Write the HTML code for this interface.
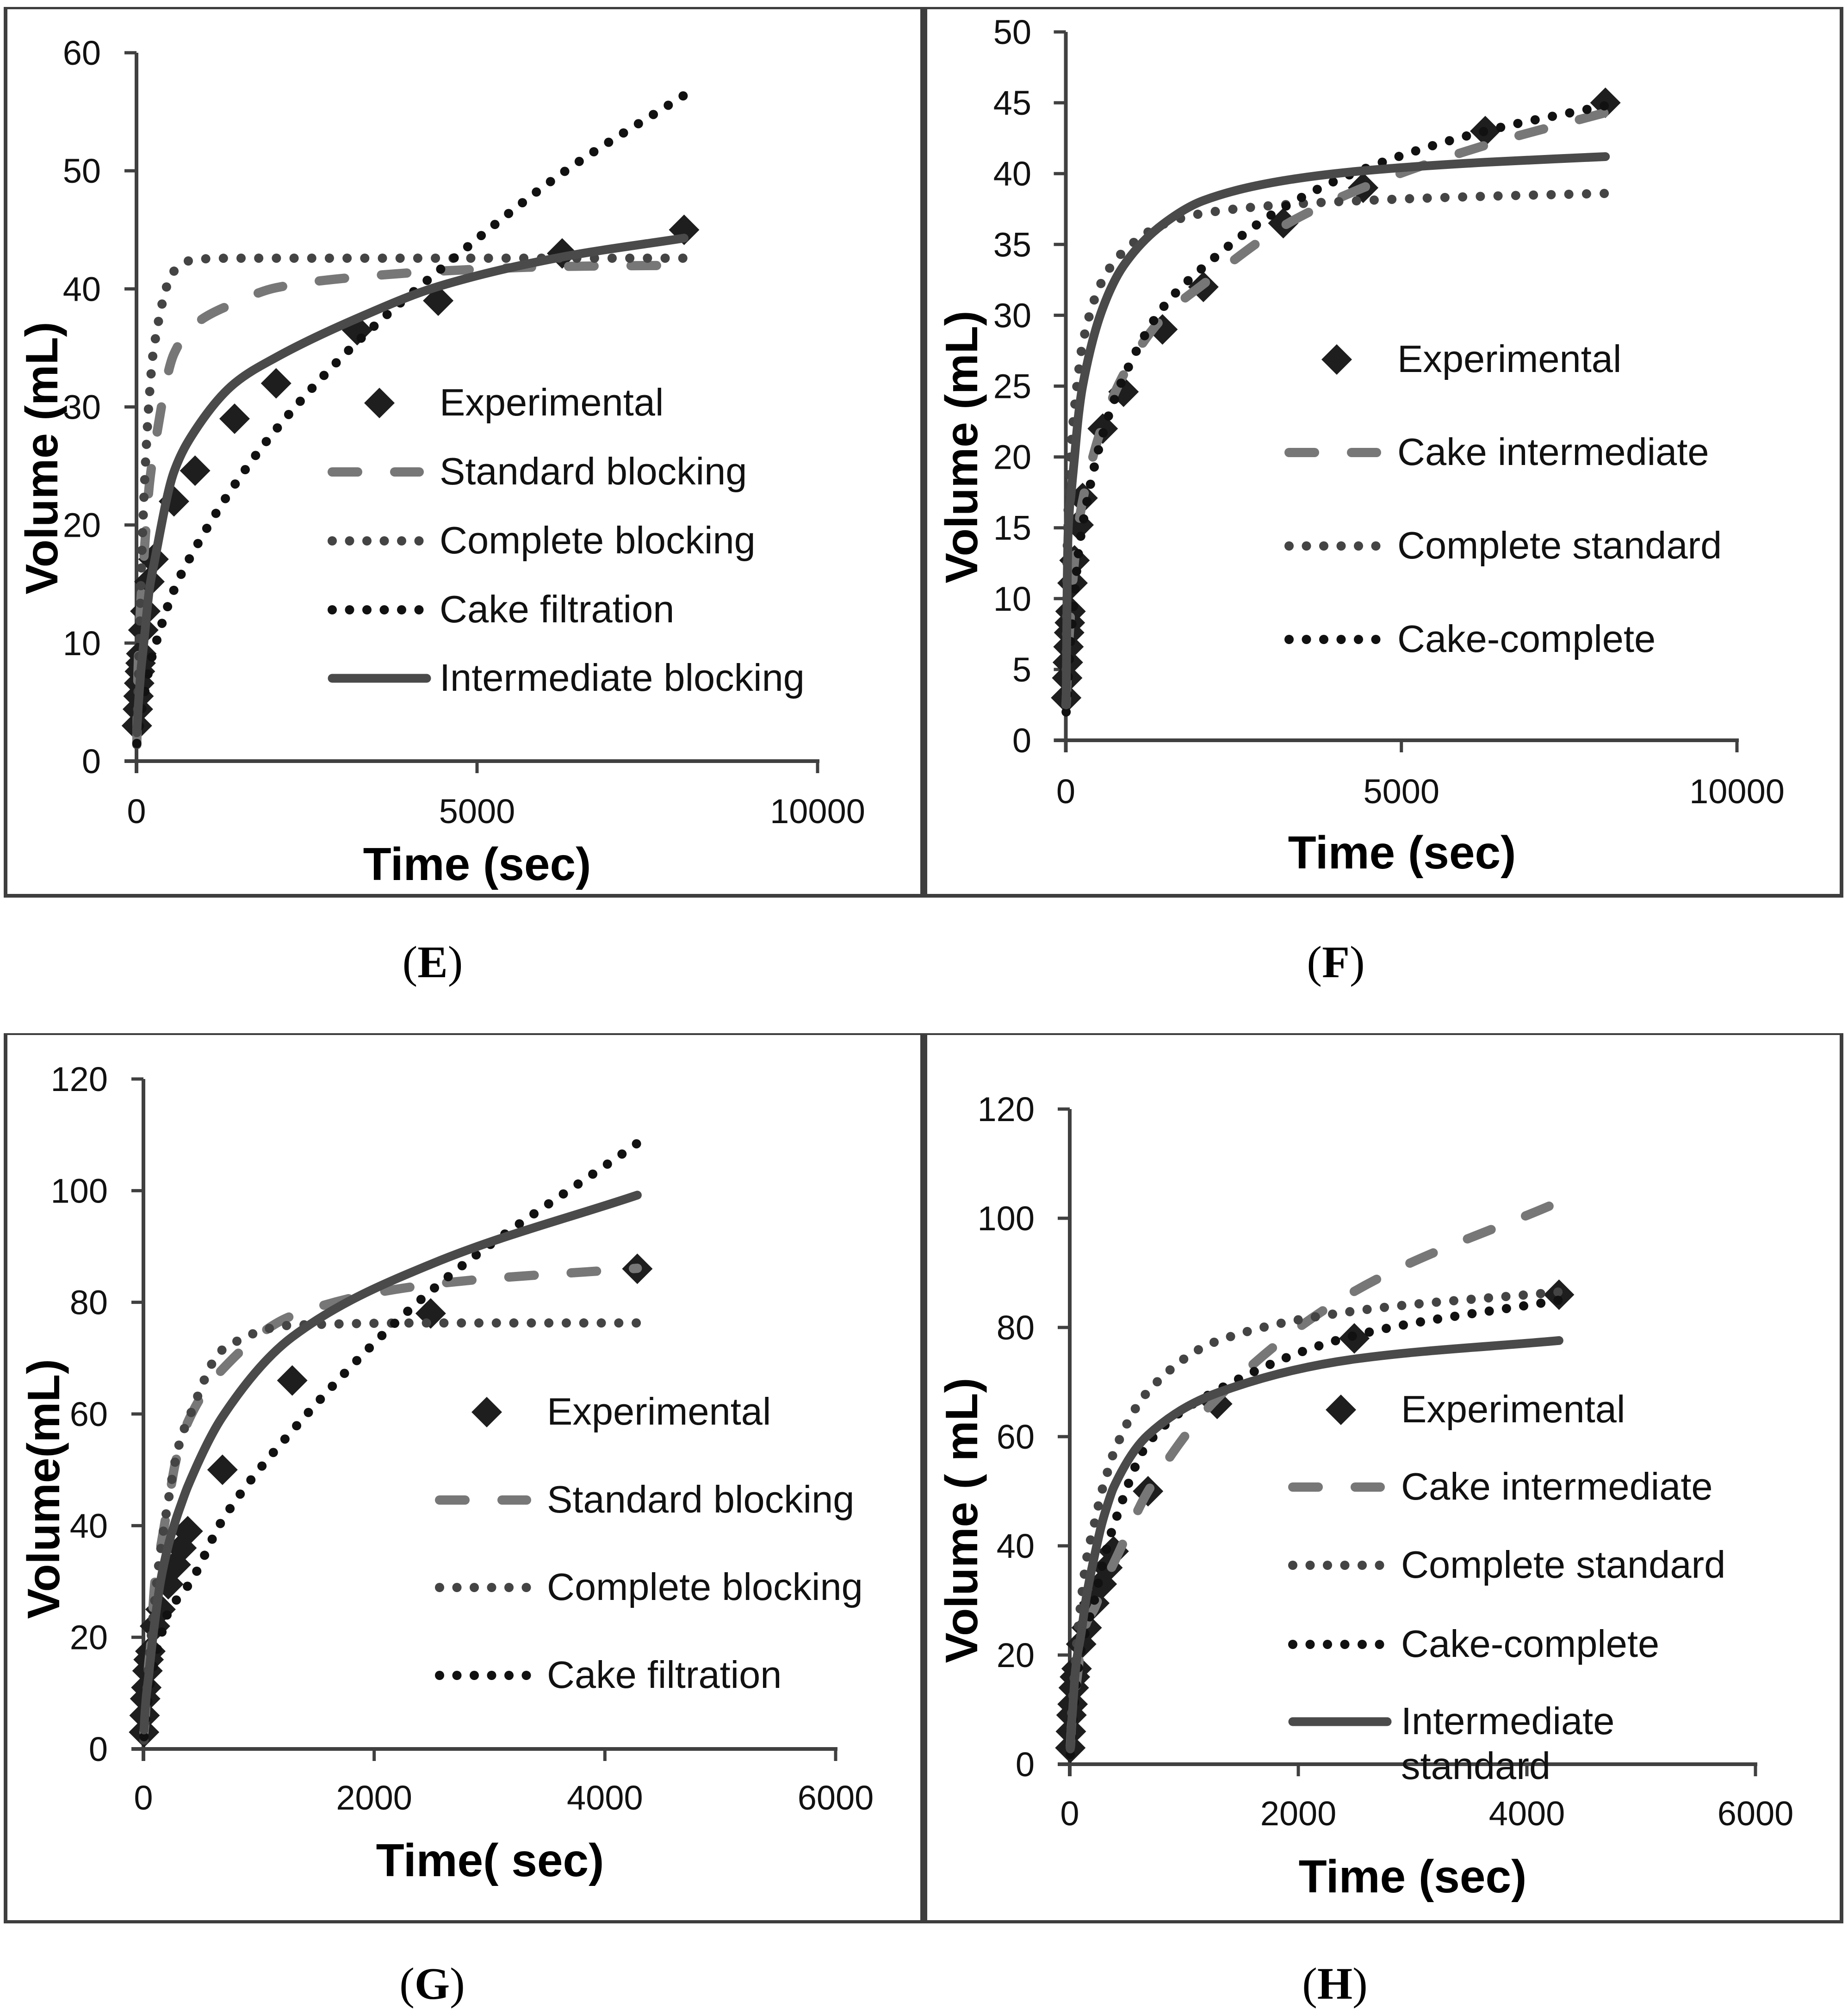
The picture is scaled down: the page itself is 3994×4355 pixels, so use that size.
<!DOCTYPE html>
<html lang="en">
<head>
<meta charset="utf-8">
<title>Filtration volume versus time, panels E to H</title>
<style>
html,body{margin:0;padding:0;background:#fff;}
svg{display:block;}
text{font-family:"Liberation Sans",sans-serif;fill:#111;}
.legend{font-size:83px;}
.title{font-size:100px;font-weight:bold;fill:#000;}
.ytitle{font-size:98.5px;font-weight:bold;fill:#000;}
.caption{font-family:"Liberation Serif",serif;font-size:98px;fill:#000;}
.caption tspan{font-family:"Liberation Serif",serif;font-weight:bold;}
.frame{fill:#3e3e3e;stroke:none;}
.std{fill:none;stroke:#777;stroke-width:20;stroke-linecap:round;stroke-linejoin:round;stroke-dasharray:55 80;}
.cmp{fill:none;stroke:#444;stroke-width:20;stroke-linecap:round;stroke-linejoin:round;stroke-dasharray:0 38;}
.cak{fill:none;stroke:#111;stroke-width:20;stroke-linecap:round;stroke-linejoin:round;stroke-dasharray:0 38;}
.int{fill:none;stroke:#4a4a4a;stroke-width:19;stroke-linecap:round;stroke-linejoin:round;}
line.cmp,line.cak{stroke-dasharray:0 37.5;}
</style>
</head>
<body>
<svg id="figure" xmlns="http://www.w3.org/2000/svg" width="3994" height="4355" viewBox="0 0 3994 4355">
  <rect x="0" y="0" width="3994" height="4355" fill="#fff"/>
  <g>
    <rect class="frame" x="8" y="15" width="3976" height="5"/>
    <rect class="frame" x="8" y="1932" width="3976" height="8"/>
    <rect class="frame" x="8" y="15" width="8" height="1925"/>
    <rect class="frame" x="1989" y="15" width="15" height="1925"/>
    <rect class="frame" x="3976" y="15" width="8" height="1925"/>
    <rect class="frame" x="8" y="2233" width="3976" height="4"/>
    <rect class="frame" x="8" y="4150" width="3976" height="7"/>
    <rect class="frame" x="8" y="2233" width="8" height="1924"/>
    <rect class="frame" x="1989" y="2233" width="15" height="1924"/>
    <rect class="frame" x="3976" y="2233" width="8" height="1924"/>
  </g>

  <g id="panel-e"></g>
  <g id="panel-f"></g>
  <g id="panel-g"></g>
  <g id="panel-h"></g>

  <!-- Panel E text -->
  <text class="title" x="1031" y="1902" text-anchor="middle">Time (sec)</text>
  <text class="ytitle" text-anchor="middle" transform="translate(124 990) rotate(-90)">Volume (mL)</text>
  <text class="caption" x="935" y="2112" text-anchor="middle">(<tspan>E</tspan>)</text>
  <g>
    <polygon points="820,838 853,871 820,904 787,871" fill="#1e1e1e"/>
    <text class="legend" x="950" y="898">Experimental</text>
    <line class="std" x1="718" y1="1020" x2="906" y2="1020"/>
    <text class="legend" x="950" y="1047">Standard blocking</text>
    <line class="cmp" x1="718" y1="1169" x2="907" y2="1169"/>
    <text class="legend" x="950" y="1196">Complete blocking</text>
    <line class="cak" x1="718" y1="1318" x2="907" y2="1318"/>
    <text class="legend" x="950" y="1345">Cake filtration</text>
    <line class="int" x1="718" y1="1466" x2="922" y2="1466"/>
    <text class="legend" x="950" y="1493">Intermediate blocking</text>
  </g>

  <!-- Panel F text -->
  <text class="title" x="3030" y="1877" text-anchor="middle">Time (sec)</text>
  <text class="ytitle" text-anchor="middle" transform="translate(2112 966) rotate(-90)">Volume (mL)</text>
  <text class="caption" x="2887" y="2112" text-anchor="middle">(<tspan>F</tspan>)</text>
  <g>
    <polygon points="2889,744 2922,777 2889,810 2856,777" fill="#1e1e1e"/>
    <text class="legend" x="3020" y="804">Experimental</text>
    <line class="std" x1="2786" y1="978" x2="2975" y2="978"/>
    <text class="legend" x="3020" y="1005">Cake intermediate</text>
    <line class="cmp" x1="2786" y1="1180" x2="2975" y2="1180"/>
    <text class="legend" x="3020" y="1207">Complete standard</text>
    <line class="cak" x1="2786" y1="1382" x2="2975" y2="1382"/>
    <text class="legend" x="3020" y="1409">Cake-complete</text>
  </g>

  <!-- Panel G text -->
  <text class="title" x="1059" y="4055" text-anchor="middle">Time( sec)</text>
  <text class="ytitle" text-anchor="middle" transform="translate(128 3218) rotate(-90)">Volume(mL)</text>
  <text class="caption" x="934" y="4320" text-anchor="middle">(<tspan>G</tspan>)</text>
  <g>
    <polygon points="1052,3019 1085,3052 1052,3085 1019,3052" fill="#1e1e1e"/>
    <text class="legend" x="1182" y="3079">Experimental</text>
    <line class="std" x1="950" y1="3242" x2="1138" y2="3242"/>
    <text class="legend" x="1182" y="3269">Standard blocking</text>
    <line class="cmp" x1="950" y1="3431" x2="1139" y2="3431"/>
    <text class="legend" x="1182" y="3458">Complete blocking</text>
    <line class="cak" x1="950" y1="3621" x2="1139" y2="3621"/>
    <text class="legend" x="1182" y="3648">Cake filtration</text>
  </g>

  <!-- Panel H text -->
  <text class="title" x="3053" y="4090" text-anchor="middle">Time (sec)</text>
  <text class="ytitle" text-anchor="middle" transform="translate(2112 3286) rotate(-90)">Volume ( mL)</text>
  <text class="caption" x="2885" y="4320" text-anchor="middle">(<tspan>H</tspan>)</text>
  <g>
    <polygon points="2898,3014 2931,3047 2898,3080 2865,3047" fill="#1e1e1e"/>
    <text class="legend" x="3028" y="3074">Experimental</text>
    <line class="std" x1="2794" y1="3214" x2="2983" y2="3214"/>
    <text class="legend" x="3028" y="3241">Cake intermediate</text>
    <line class="cmp" x1="2794" y1="3383" x2="2983" y2="3383"/>
    <text class="legend" x="3028" y="3410">Complete standard</text>
    <line class="cak" x1="2794" y1="3554" x2="2983" y2="3554"/>
    <text class="legend" x="3028" y="3581">Cake-complete</text>
    <line class="int" x1="2794" y1="3721" x2="2998" y2="3721"/>
    <text class="legend" x="3028" y="3748">Intermediate</text>
    <text class="legend" x="3028" y="3845">standard</text>
  </g>
</svg>

<script>
// Shared x values and experimental data: panels E and F
var timeEF = [5,20,30,40,50,60,70,100,130,190,250,550,860,1440,2050,3240,4430,6250,8040];
var experimentalEF = [3,4.4,5.5,6.6,7.6,8.3,9.1,11.1,12.7,15.2,17.1,22,24.6,29,32,36.5,39,43,45];

// Panel E models
var standardE = [1.5,7,9,10.5,12,13,14,16.5,19,23.5,26,34.5,37,38.8,40.1,41,41.5,41.9,42];
var completeE = [1.4,5.2,7.5,10,12,14,16,21,25,31,34.8,41.5,42.5,42.6,42.6,42.6,42.6,42.6,42.6];
var cakeE = [1.5,2,2.5,2.9,3.3,3.7,4.1,5.2,6.1,8,9.3,14.5,18,23.4,28.1,35.5,41.5,49.8,56.4];
var intermediateE = [2.4,4,5,5.8,6.6,7.3,8,9.6,11.3,14.6,16.5,24.5,28,32,34.2,37.5,40.2,42.7,44.3];

// Panel F models
var cakeIntermediateF = [2.5,4.6,5.6,6.6,7.4,8.2,9,11,12.7,15.2,16.9,22.3,25.8,29.8,32.2,36.3,39,42,44.3];
var completeStandardF = [5,13,15.5,17,18.5,19.5,20.2,22,23.5,26,28,32.5,34.5,36.4,37.2,37.8,38.1,38.4,38.6];
var cakeCompleteF = [2,3.2,4,4.8,5.5,6.2,6.9,8.7,10.3,13.3,15.2,21.6,25.6,30.5,33.4,37.6,40.3,43,44.8];
var intermediateStandardF = [2.5,11,14,15.3,16,16.7,17,18.5,20,23,25,30.5,33.5,36.4,38.1,39.5,40.2,40.8,41.2];

// Shared x values and experimental data: panels G and H
var timeGH = [5,10,15,25,35,45,60,100,148,215,280,330,384,685,1290,2490,4281];
var experimentalGH = [3,6,9,11,14,16,17.5,22,25,29.5,33,36,39,50,66,78,86];

// Panel G models
var standardG = [3,4,5.5,9,12,15,18,30,36,44,51.5,55,58.5,68,77.6,83.2,86.1];
var completeG = [1.6,3.5,5.5,9,12,15,18.5,27,35.5,44.4,52,56,58.8,71.5,75.9,76.3,76.3];
var cakeG = [2.2,3.5,4.8,6.5,8,9.5,12,16,20,24.5,26.5,28,29.2,41,57,82,108.5];
var intermediateG = [3.4,5.5,7,9.5,11.3,13,16,23,30,36.4,41,44,47,59.5,73.8,86.8,99.2];

// Panel H models
var cakeIntermediateH = [3,5,7,9,10.5,12.5,15,22,26,28.5,32,34.5,36.8,50,67,86.6,103];
var completeStandardH = [3,6,9,12,15,18,22,30,37.7,44,50,53.5,57,68.3,77.5,83,86.5];
var cakeCompleteH = [1.8,3,5,7.5,10,12,15,21,25,30,36,40,43.7,58.8,68.5,78.5,85];
var intermediateStandardH = [2.8,5,7,10,13,16,19,24,31,38,44,47.5,50.7,60.3,68,74.2,77.6];

// Tick labels
var xTicksEF = [0,5000,10000];
var xTicksGH = [0,2000,4000,6000];
var yTicksE = [0,10,20,30,40,50,60];
var yTicksF = [0,5,10,15,20,25,30,35,40,45,50];
var yTicksGH = [0,20,40,60,80,100,120];

var SVGNS = 'http://www.w3.org/2000/svg';

function attrs(el, map) {
  for (var k in map) { el.setAttribute(k, map[k]); }
  return el;
}

function lastOf(a) { return a[a.length - 1]; }

// Smooth monotone path through the mapped data points
function smoothPath(xs, ys) {
  var n = xs.length, h = [], s = [], m = [], i;
  for (i = 0; i < n - 1; i++) {
    h[i] = xs[i + 1] - xs[i];
    s[i] = (ys[i + 1] - ys[i]) / h[i];
  }
  m[0] = s[0];
  m[n - 1] = s[n - 2];
  for (i = 1; i < n - 1; i++) {
    if (s[i - 1] * s[i] <= 0) {
      m[i] = 0;
    } else {
      m[i] = 3 * (h[i - 1] + h[i]) / ((2 * h[i] + h[i - 1]) / s[i - 1] + (h[i] + 2 * h[i - 1]) / s[i]);
    }
  }
  var d = 'M' + xs[0].toFixed(1) + ' ' + ys[0].toFixed(1);
  for (i = 0; i < n - 1; i++) {
    d += 'C' + (xs[i] + h[i] / 3).toFixed(2) + ' ' + (ys[i] + m[i] * h[i] / 3).toFixed(2) + ' ' +
         (xs[i + 1] - h[i] / 3).toFixed(2) + ' ' + (ys[i + 1] - m[i + 1] * h[i] / 3).toFixed(2) + ' ' +
         xs[i + 1].toFixed(1) + ' ' + ys[i + 1].toFixed(1);
  }
  return d;
}

function drawPanel(id, box, xTicks, yTicks, labelPos, times, experimental, seriesList) {
  var root = document.getElementById(id);
  var xMax = lastOf(xTicks), yMax = lastOf(yTicks);
  function sx(v) { return box.left + (box.right - box.left) * v / xMax; }
  function sy(v) { return box.bottom - (box.bottom - box.top) * v / yMax; }

  // axes
  var yAxis = attrs(document.createElementNS(SVGNS, 'line'), {x1: sx(0), x2: sx(0), y1: sy(yMax), y2: sy(0) + 26, stroke: '#404040', 'stroke-width': 8});
  
  
  root.appendChild(yAxis);
  var xAxis = attrs(document.createElementNS(SVGNS, 'line'), {x1: sx(0) - 26, x2: sx(xMax) + 4, y1: sy(0), y2: sy(0), stroke: '#404040', 'stroke-width': 8});
  
  
  root.appendChild(xAxis);

  // y ticks
  yTicks.forEach(function (v) {
    var tick = attrs(document.createElementNS(SVGNS, 'line'), {x1: sx(0) - 26, x2: sx(0), y1: sy(v), y2: sy(v), stroke: '#404040', 'stroke-width': 7});
    
    
    root.appendChild(tick);
    var label = attrs(document.createElementNS(SVGNS, 'text'), {x: labelPos.yRight, y: sy(v) + 26, 'text-anchor': 'end', 'font-size': 74});
    label.textContent = String(v);
    
    
    root.appendChild(label);
  });

  // x ticks
  xTicks.forEach(function (v) {
    var tick = attrs(document.createElementNS(SVGNS, 'line'), {x1: sx(v), x2: sx(v), y1: sy(0), y2: sy(0) + 26, stroke: '#404040', 'stroke-width': 7});
    
    
    root.appendChild(tick);
    var label = attrs(document.createElementNS(SVGNS, 'text'), {x: sx(v), y: labelPos.xBase, 'text-anchor': 'middle', 'font-size': 74});
    label.textContent = String(v);
    
    
    root.appendChild(label);
  });

  // experimental points
  experimental.forEach(function (v, i) {
    var cx = sx(times[i]), cy = sy(v), r = 33;
    var pt = attrs(document.createElementNS(SVGNS, 'polygon'), {
      points: [cx, cy - r, cx + r, cy, cx, cy + r, cx - r, cy].join(' '),
      fill: '#1e1e1e'
    });
    
    
    root.appendChild(pt);
  });

  // model curves
  seriesList.forEach(function (s) {
    var d = smoothPath(times.map(sx), s.values.map(sy));
    var line = attrs(document.createElementNS(SVGNS, 'path'), {d: d, 'class': s.cls});
    
    
    root.appendChild(line);
    if (s.cls === 'cmp' || s.cls === 'cak') {
      // keep a dot on the final data point: spacing sits just under the exact fit
      var len = line.getTotalLength();
      line.style.strokeDasharray = '0 ' + (len / Math.round(len / 38) - 0.05).toFixed(3);
    }
  });
}

drawPanel('panel-e', {left: 295, right: 1767, top: 114, bottom: 1645}, xTicksEF, yTicksE, {yRight: 218, xBase: 1779}, timeEF, experimentalEF, [
  {name: 'standard-blocking-curve', cls: 'std', values: standardE},
  {name: 'complete-blocking-curve', cls: 'cmp', values: completeE},
  {name: 'cake-filtration-curve', cls: 'cak', values: cakeE},
  {name: 'intermediate-blocking-curve', cls: 'int', values: intermediateE}
]);

drawPanel('panel-f', {left: 2303.5, right: 3754, top: 69, bottom: 1600}, xTicksEF, yTicksF, {yRight: 2229, xBase: 1736}, timeEF, experimentalEF, [
  {name: 'cake-intermediate-curve', cls: 'std', values: cakeIntermediateF},
  {name: 'complete-standard-curve', cls: 'cmp', values: completeStandardF},
  {name: 'cake-complete-curve', cls: 'cak', values: cakeCompleteF},
  {name: 'intermediate-standard-curve', cls: 'int', values: intermediateStandardF}
]);

drawPanel('panel-g', {left: 310, right: 1806, top: 2332, bottom: 3780}, xTicksGH, yTicksGH, {yRight: 233, xBase: 3911}, timeGH, experimentalGH, [
  {name: 'standard-blocking-curve', cls: 'std', values: standardG},
  {name: 'complete-blocking-curve', cls: 'cmp', values: completeG},
  {name: 'cake-filtration-curve', cls: 'cak', values: cakeG},
  {name: 'intermediate-blocking-curve', cls: 'int', values: intermediateG}
]);

drawPanel('panel-h', {left: 2312, right: 3794, top: 2397, bottom: 3813}, xTicksGH, yTicksGH, {yRight: 2236, xBase: 3945}, timeGH, experimentalGH, [
  {name: 'cake-intermediate-curve', cls: 'std', values: cakeIntermediateH},
  {name: 'complete-standard-curve', cls: 'cmp', values: completeStandardH},
  {name: 'cake-complete-curve', cls: 'cak', values: cakeCompleteH},
  {name: 'intermediate-standard-curve', cls: 'int', values: intermediateStandardH}
]);
</script>
</body>
</html>
